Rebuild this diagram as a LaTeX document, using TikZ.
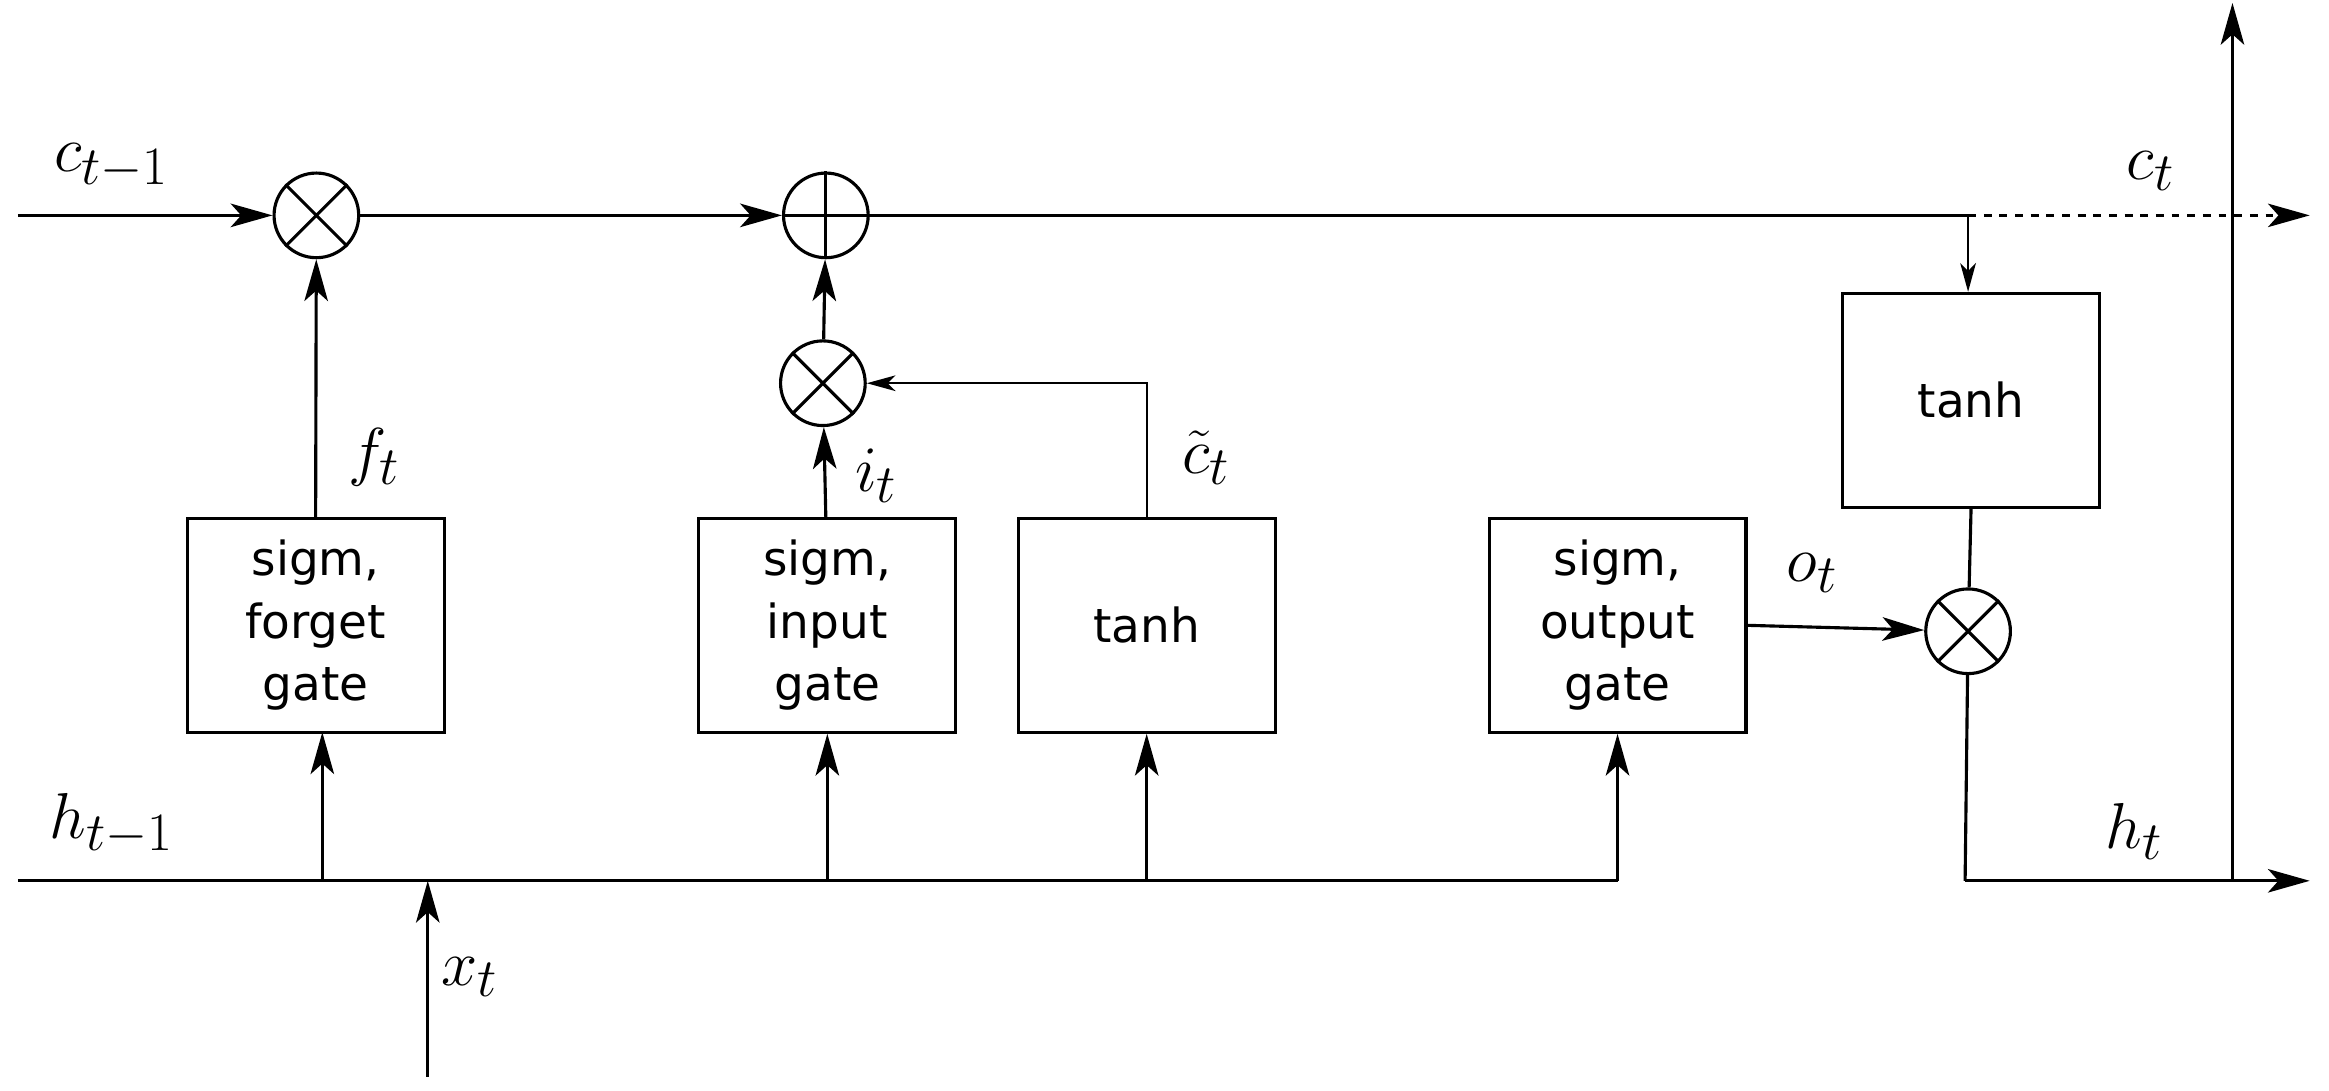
\documentclass[tikz,border=0pt]{standalone}
\usepackage{fontspec}
\newfontfamily\boxfont{DejaVu Sans}
\usetikzlibrary{arrows.meta}
\begin{document}
\begin{tikzpicture}[x=0.02cm,y=-0.02cm,line width=1.2pt,
  box/.style={draw,minimum width=3.46cm,minimum height=2.88cm,align=center,font=\boxfont\fontsize{18}{24}\selectfont,inner sep=0},
  op/.style={draw,circle,minimum size=1.14cm,inner sep=0},
  arr/.style={-{Stealth[length=16pt,width=9pt,inset=4pt]}},
  sarr/.style={line width=0.9pt,-{Stealth[length=11pt,width=6pt,inset=3pt]}},
  lab/.style={font=\fontsize{32}{38}\selectfont}]
\useasboundingbox (0,0) rectangle (1568,734);
% nodes
\node[op] (m1) at (213,145) {};
\node[op] (pl) at (556,145) {};
\node[op] (m2) at (554,258) {};
\node[op] (m3) at (1325,425) {};
\draw (m1.north west) -- (m1.south east) (m1.north east) -- (m1.south west);
\draw (m2.north west) -- (m2.south east) (m2.north east) -- (m2.south west);
\draw (m3.north west) -- (m3.south east) (m3.north east) -- (m3.south west);
\draw (pl.north) -- (pl.south) (pl.west) -- (pl.east);
\node[box] (fg) at (212.5,421) {sigm,\\forget\\gate};
\node[box] (ig) at (557,421) {sigm,\\input\\gate};
\node[box] (tg) at (772,421) {tanh};
\node[box] (og) at (1089,421) {sigm,\\output\\gate};
\node[box] (th) at (1327,269.5) {tanh};
\coordinate (cin) at (12,145);
\coordinate (csplit) at (1325,145);
\coordinate (cout) at (1555,145);
\coordinate (hin) at (12,593);
\coordinate (hend) at (1089,593);
\coordinate (hout) at (1555,593);
\coordinate (xin) at (288,725);
\coordinate (xj) at (288,593);
\coordinate (hc) at (1323,593);
\coordinate (up0) at (1503,593);
\coordinate (up1) at (1503,2);
% connectors
\draw[arr] (cin) -- (m1);
\draw[arr] (m1) -- (pl);
\draw (pl) -- (csplit);
\draw[dashed,line width=0.9pt,arr] (csplit) -- (cout);
\draw[sarr] (csplit) -- (csplit |- th.north);
\draw (th.south) -- (m3);
\draw (m3) -- (hc);
\draw[arr] (hc) -- (hout);
\draw[arr] (up0) -- (up1);
\draw (hin) -- (hend);
\draw[arr] (hend) -- (og.south);
\draw[arr] (217,593) -- (217,493);
\draw[arr] (557,593) -- (ig.south);
\draw[arr] (772,593) -- (tg.south);
\draw[arr] (xin) -- (xj);
\draw[arr] (fg.north) -- (m1);
\draw[arr] (556,349) -- (m2);
\draw[arr] (m2) -- (pl);
\draw[sarr] (tg.north) |- (m2.east);
\draw[arr] (og.east) -- (m3);
% labels
\node[lab] at (75,112) {$c_{t-1}$};
\node[lab] at (1448,115) {$c_t$};
\node[lab] at (252,308) {$f_t$};
\node[lab] at (590,320) {$i_t$};
\node[lab] at (812,308) {$\tilde c_t$};
\node[lab] at (1220,386) {$o_t$};
\node[lab] at (75,555) {$h_{t-1}$};
\node[lab] at (1437,560) {$h_t$};
\node[lab] at (316,658) {$x_t$};
\end{tikzpicture}
\end{document}
